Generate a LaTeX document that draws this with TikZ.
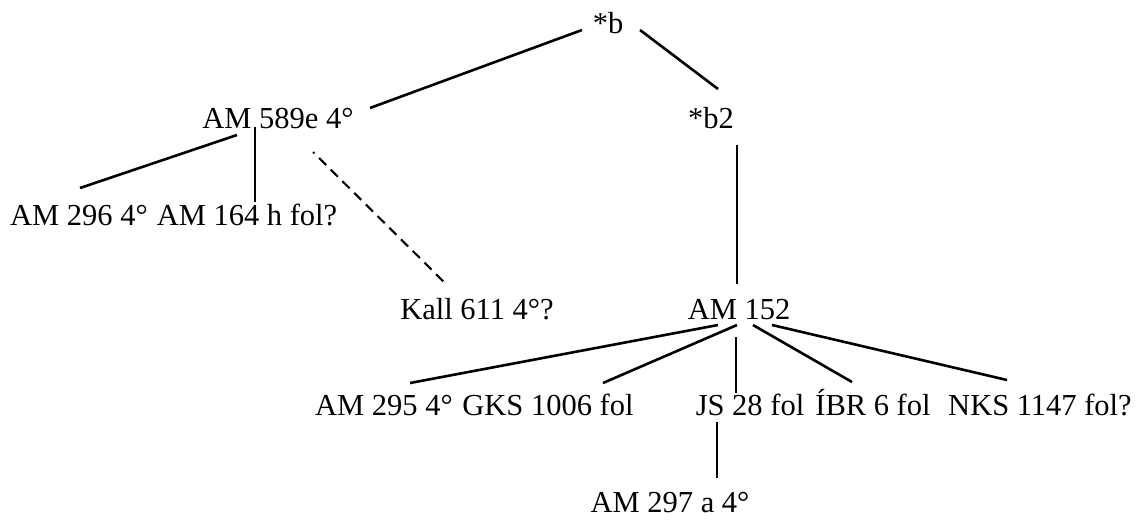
\documentclass[tikz,border=0pt]{standalone}
\usepackage{fontspec}
\setmainfont{Liberation Serif}
\begin{document}
\begin{tikzpicture}[x=1pt,y=-1pt,
  lbl/.style={anchor=base,inner sep=0pt,font=\fontsize{30.5}{36}\selectfont},
  edge/.style={line width=2.6pt},
  vedge/.style={line width=1.8pt},
  doubt/.style={line width=2.1pt,dash pattern=on 10pt off 6.5pt,dash phase=8pt}]
\useasboundingbox[fill=white] (0,0) rectangle (1142,523);

% manuscripts and hypothetical exemplars
\node[lbl] (nb)   at (608,33)   {*b};
\node[lbl] (n589) at (278,128)  {AM 589e 4°};
\node[lbl] (nb2)  at (711,128)  {*b2};
\node[lbl] (n296) at (79,225)   {AM 296 4°};
\node[lbl] (n164) at (247,225)  {AM 164 h fol?};
\node[lbl] (nkall) at (477,319) {Kall 611 4°?};
\node[lbl] (n152) at (739,319)  {AM 152};
\node[lbl] (n295) at (384,415)  {AM 295 4°};
\node[lbl] (ngks) at (548,415)  {GKS 1006 fol};
\node[lbl] (njs)  at (750,415)  {JS 28 fol};
\node[lbl] (nibr) at (873,415)  {ÍBR 6 fol};
\node[lbl] (nnks) at (1040,415) {NKS 1147 fol?};
\node[lbl] (n297) at (670,512)  {AM 297 a 4°};

% stemma lines
\draw[edge] ([shift={(-26,-3)}]nb.base) -- ([shift={(92,-20)}]n589.base);
\draw[edge] ([shift={(32,-3)}]nb.base) -- ([shift={(7,-39)}]nb2.base);
\draw[edge] ([shift={(-41,7)}]n589.base) -- ([shift={(1,-37)}]n296.base);
\draw[vedge] ([shift={(-23,-1)}]n589.base) -- ([shift={(8,-23)}]n164.base);
\draw[doubt] ([shift={(35,24)}]n589.base) -- ([shift={(-30,-34)}]nkall.base);
\draw[vedge] ([shift={(26,17)}]nb2.base) -- ([shift={(-2,-35)}]n152.base);
\draw[edge] ([shift={(-21,6)}]n152.base) -- ([shift={(26,-32)}]n295.base);
\draw[edge] ([shift={(-2,6)}]n152.base) -- ([shift={(55,-32)}]ngks.base);
\draw[vedge] ([shift={(-3,18)}]n152.base) -- ([shift={(-14,-22)}]njs.base);
\draw[edge] ([shift={(14,6)}]n152.base) -- ([shift={(-21,-33)}]nibr.base);
\draw[edge] ([shift={(33,6)}]n152.base) -- ([shift={(-33,-35)}]nnks.base);
\draw[vedge] ([shift={(-33,7)}]njs.base) -- ([shift={(47,-34)}]n297.base);
\end{tikzpicture}
\end{document}
